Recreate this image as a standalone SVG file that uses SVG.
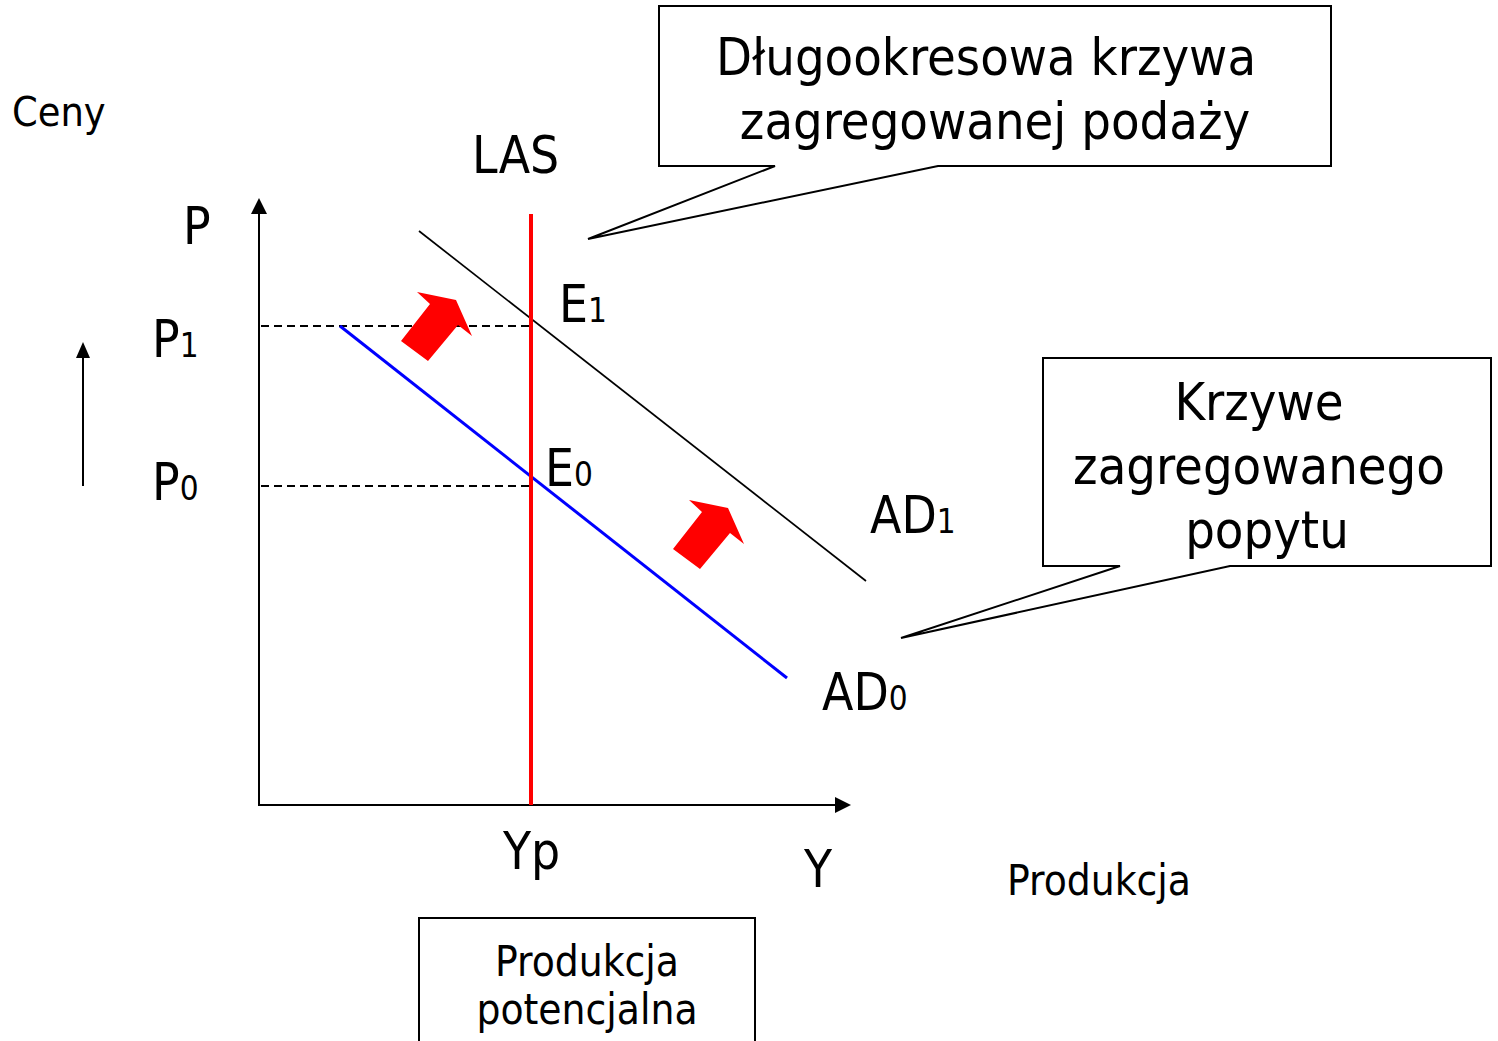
<svg xmlns="http://www.w3.org/2000/svg" width="1498" height="1041" viewBox="0 0 1498 1041">
<style>
text { font-family: "DejaVu Sans Condensed", "DejaVu Sans", sans-serif; font-stretch: condensed; fill: #000; }
.big { font-size: 51px; }
.call { font-size: 52px; }
.mid { font-size: 42px; }
.sub { font-size: 33px; }
.c { text-anchor: middle; }
.box { fill: #fff; stroke: #000; stroke-width: 2; }
.axis { stroke: #000; stroke-width: 2; fill: none; }
.dash { stroke: #000; stroke-width: 1.8; stroke-dasharray: 8 5; fill: none; }
.head { fill: #000; }
.blk { fill: #ff0000; }
</style>
<rect width="1498" height="1041" fill="#fff"/>

<g id="connectors">
  <!-- axes -->
  <line class="axis" x1="259" y1="806" x2="259" y2="210"/>
  <polygon class="head" points="259,198 251,214 267,214"/>
  <line class="axis" x1="258" y1="805" x2="838" y2="805"/>
  <polygon class="head" points="851,805 835,797 835,813"/>
  <!-- price change arrow -->
  <line class="axis" x1="83" y1="486" x2="83" y2="355"/>
  <polygon class="head" points="83,342 76,358 90,358"/>
  <!-- dashed guides -->
  <line class="dash" x1="261" y1="326" x2="530" y2="326"/>
  <line class="dash" x1="261" y1="486" x2="530" y2="486"/>
  <!-- curves -->
  <line x1="419" y1="231" x2="866" y2="581" stroke="#000" stroke-width="1.7"/>
  <line x1="340" y1="326" x2="787" y2="678" stroke="#0000ff" stroke-width="3"/>
  <line x1="531" y1="214" x2="531" y2="805" stroke="#ff0000" stroke-width="4"/>
  <!-- shift arrows -->
  <polygon class="blk" points="401,341 430,304 417,292 456,300 472,336 458,325 428,361"/>
  <polygon class="blk" points="673,549 702,512 689,500 728,508 744,544 730,533 700,569"/>
</g>

<g id="label-ceny"><text class="mid" x="12" y="126" style="font-size:41px">Ceny</text></g>
<g id="label-las"><text class="big" x="472" y="173">LAS</text></g>
<g id="label-p"><text class="big" x="183" y="244">P</text></g>
<g id="label-p1"><text class="big" x="152" y="357">P<tspan class="sub">1</tspan></text></g>
<g id="label-p0"><text class="big" x="152" y="500">P<tspan class="sub">0</tspan></text></g>
<g id="label-e1"><text class="big" x="559" y="322">E<tspan class="sub">1</tspan></text></g>
<g id="label-e0"><text class="big" x="545" y="486">E<tspan class="sub">0</tspan></text></g>
<g id="label-ad1"><text class="big" x="870" y="533">AD<tspan class="sub">1</tspan></text></g>
<g id="label-ad0"><text class="big" x="822" y="710">AD<tspan class="sub">0</tspan></text></g>
<g id="label-yp"><text class="big" x="503" y="869">Yp</text></g>
<g id="label-y"><text class="big" x="804" y="887">Y</text></g>
<g id="label-produkcja"><text class="mid" x="1007" y="895">Produkcja</text></g>

<g id="callout-las">
  <path class="box" d="M659,6 H1331 V166 H938 L588,239 L775,166 H659 Z"/>
  <text class="call c" x="986" y="75">Długookresowa krzywa</text>
  <text class="call c" x="995" y="139">zagregowanej podaży</text>
</g>

<g id="callout-ad">
  <path class="box" d="M1043,358 H1491 V566 H1230 L901,638 L1120,566 H1043 Z"/>
  <text class="call c" x="1259" y="420">Krzywe</text>
  <text class="call c" x="1259" y="484">zagregowanego</text>
  <text class="call c" x="1267" y="548">popytu</text>
</g>

<g id="box-potencjalna">
  <rect class="box" x="419" y="918" width="336" height="140"/>
  <text class="mid c" x="587" y="976">Produkcja</text>
  <text class="mid c" x="587" y="1024">potencjalna</text>
</g>
</svg>
